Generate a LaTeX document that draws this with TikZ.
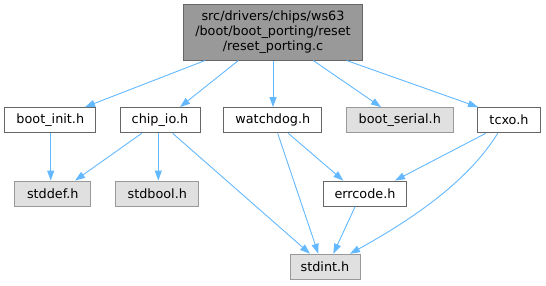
\documentclass[tikz,border=0pt]{standalone}
\usepackage{fontspec}
\setmainfont{DejaVu Sans}
\usetikzlibrary{arrows.meta}
\definecolor{edgec}{HTML}{63B8FF}
\definecolor{bdark}{HTML}{666666}
\definecolor{bgray}{HTML}{999999}
\definecolor{fgray}{HTML}{E0E0E0}
\begin{document}
\begin{tikzpicture}[x=1pt,y=-1pt,
  box/.style={draw=bdark, fill=white, line width=1pt, minimum height=25.3pt, inner sep=0pt,
    font=\fontsize{12.8}{15.2}\selectfont},
  graybox/.style={box, draw=bgray, fill=fgray},
  dep/.style={draw=edgec, line width=0.9pt, -{Triangle[length=10pt,width=7pt]}}]
\useasboundingbox (0,0) rectangle (546,285);
\node[box, fill=bgray, minimum width=179.4pt, minimum height=55.3pt, align=center] (top) at (273,32.4)
  {src/drivers/chips/ws63\\/boot/boot\_porting/reset\\/reset\_porting.c};
\node[box, minimum width=91.3pt] (bootinit) at (50.3,120.2) {boot\_init.h};
\node[box, minimum width=80pt] (chipio) at (160,120.2) {chip\_io.h};
\node[box, minimum width=97.7pt] (watchdog) at (272.8,120.2) {watchdog.h};
\node[graybox, minimum width=107pt] (bootserial) at (399.8,120.2) {boot\_serial.h};
\node[box, minimum width=63.4pt] (tcxo) at (509,120.2) {tcxo.h};
\node[graybox, minimum width=75.7pt] (stddef) at (52.8,193.7) {stddef.h};
\node[graybox, minimum width=82.7pt] (stdbool) at (157.3,193.7) {stdbool.h};
\node[box, minimum width=83.4pt] (errcode) at (365,193.7) {errcode.h};
\node[graybox, minimum width=70pt, minimum height=25.5pt] (stdint) at (325,267) {stdint.h};

\draw[dep] ([xshift=-68pt]top.south) -- ([xshift=34.7pt]bootinit.north);
\draw[dep] ([xshift=-34.7pt]top.south) -- ([xshift=20pt]chipio.north);
\draw[dep] ([xshift=0pt]top.south) -- ([xshift=0.2pt]watchdog.north);
\draw[dep] ([xshift=40.3pt]top.south) -- ([xshift=-18.8pt]bootserial.north);
\draw[dep] ([xshift=73.7pt]top.south) -- ([xshift=-31pt]tcxo.north);

\draw[dep] ([xshift=0.4pt]bootinit.south) -- ([xshift=-2.1pt]stddef.north);
\draw[dep] ([xshift=-18.3pt]chipio.south) -- ([xshift=22.2pt]stddef.north);
\draw[dep] ([xshift=-1.7pt]chipio.south) -- ([xshift=1pt]stdbool.north);
\draw[dep] ([xshift=12.7pt]chipio.south) -- ([xshift=-15pt]stdint.north);
\draw[dep] ([xshift=4.9pt]watchdog.south) -- ([xshift=-6.7pt]stdint.north);
\draw[dep] ([xshift=15.5pt]watchdog.south) -- ([xshift=-21.7pt]errcode.north);
\draw[dep] ([xshift=-23.3pt]tcxo.south) -- ([xshift=30pt]errcode.north);
\draw[dep] ([xshift=-11.3pt]tcxo.south) .. controls (470,178) and (420,215) .. ([xshift=25pt]stdint.north);
\draw[dep] ([xshift=-10pt]errcode.south) -- ([xshift=8.3pt]stdint.north);
\end{tikzpicture}
\end{document}
